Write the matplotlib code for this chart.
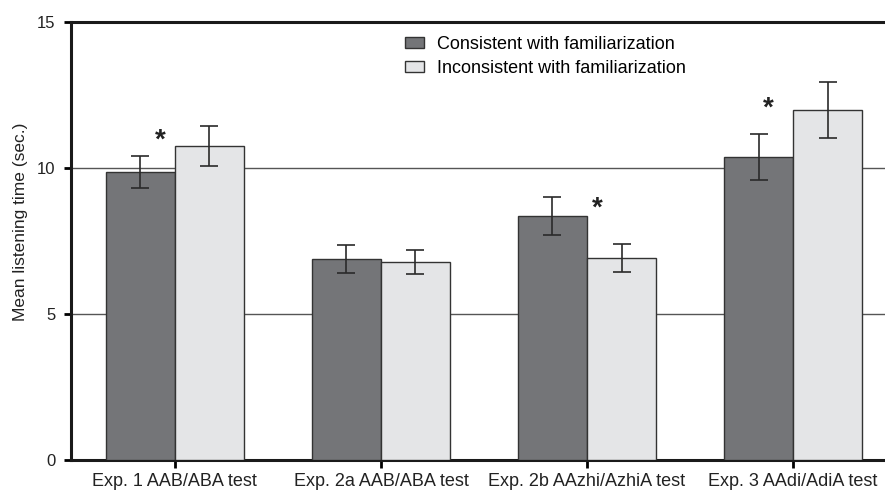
import matplotlib
matplotlib.use("Agg")
import matplotlib.pyplot as plt
import numpy as np
from matplotlib.patches import Patch
from matplotlib import font_manager

categories = ["Exp. 1 AAB/ABA test", "Exp. 2a AAB/ABA test",
              "Exp. 2b AAzhi/AzhiA test", "Exp. 3 AAdi/AdiA test"]
consistent = [9.87, 6.88, 8.36, 10.39]
consistent_err = [0.55, 0.47, 0.66, 0.79]
inconsistent = [10.75, 6.78, 6.92, 11.98]
inconsistent_err = [0.68, 0.41, 0.47, 0.96]
series_labels = ["Consistent with familiarization", "Inconsistent with familiarization"]
yticks = [0, 5, 10, 15]
# significance stars: (group index, x offset from group centre, y value)
star_groups = [0, 2, 3]
star_dx = [-0.07, 0.05, -0.12]
star_y = [10.95, 8.6, 12.05]

names = {f.name for f in font_manager.fontManager.ttflist}
base = "Liberation Sans" if "Liberation Sans" in names else "DejaVu Sans"
narrow = "Liberation Sans Narrow" if "Liberation Sans Narrow" in names else base
plt.rcParams["font.family"] = [base, "DejaVu Sans"]

dark = "#747578"
light = "#e4e5e7"
edge = "#333333"

fig = plt.figure(figsize=(8.85, 4.91), dpi=100)
ax = fig.add_axes([71/885, 31/491, 814/885, 438/491])

x = np.arange(len(categories))
w = 0.335
ax.bar(x - w/2, consistent, w, color=dark, edgecolor=edge, linewidth=1.0, zorder=3)
ax.bar(x + w/2, inconsistent, w, color=light, edgecolor=edge, linewidth=1.0, zorder=3)
ax.errorbar(x - w/2, consistent, yerr=consistent_err, fmt="none", ecolor="#2a2a2a",
            elinewidth=1.2, capsize=6.4, capthick=1.2, zorder=4)
ax.errorbar(x + w/2, inconsistent, yerr=inconsistent_err, fmt="none", ecolor="#2a2a2a",
            elinewidth=1.2, capsize=6.4, capthick=1.2, zorder=4)

for g, dx, yv in zip(star_groups, star_dx, star_y):
    ax.text(x[g] + dx, yv, "*", ha="center", va="center", fontsize=20, fontweight="bold",
            color="#222222", zorder=5)

ax.set_xlim(-0.504, 3.446)
ax.set_ylim(0, 15)
ax.set_yticks(yticks)
ax.set_yticklabels([str(t) for t in yticks], fontsize=12, color="#222222")
ax.set_xticks(x)
ax.set_xticklabels(categories, fontsize=13, family=[narrow, "DejaVu Sans"], color="#222222")
ax.tick_params(axis="y", direction="out", length=5, width=2, pad=6)
ax.tick_params(axis="x", direction="out", length=6, width=2, pad=3)

for yv in [5, 10]:
    ax.axhline(yv, color="#555555", linewidth=1.0, zorder=1)

ax.spines["right"].set_visible(False)
for s in ["left", "bottom", "top"]:
    ax.spines[s].set_linewidth(2.2)
    ax.spines[s].set_color("#1a1a1a")

ax.set_ylabel("Mean listening time (sec.)", fontsize=12.5, color="#222222")
ax.yaxis.set_label_coords(-0.053, 0.543)

handles = [Patch(facecolor=dark, edgecolor=edge, linewidth=1.0),
           Patch(facecolor=light, edgecolor=edge, linewidth=1.0)]
leg = ax.legend(handles, series_labels, loc="upper left", bbox_to_anchor=(0.402, 0.985),
                frameon=False, fontsize=13, handlelength=1.05, handleheight=0.55,
                handletextpad=0.7, labelspacing=0.4, borderaxespad=0)

fig.savefig("out.png", dpi=100)
